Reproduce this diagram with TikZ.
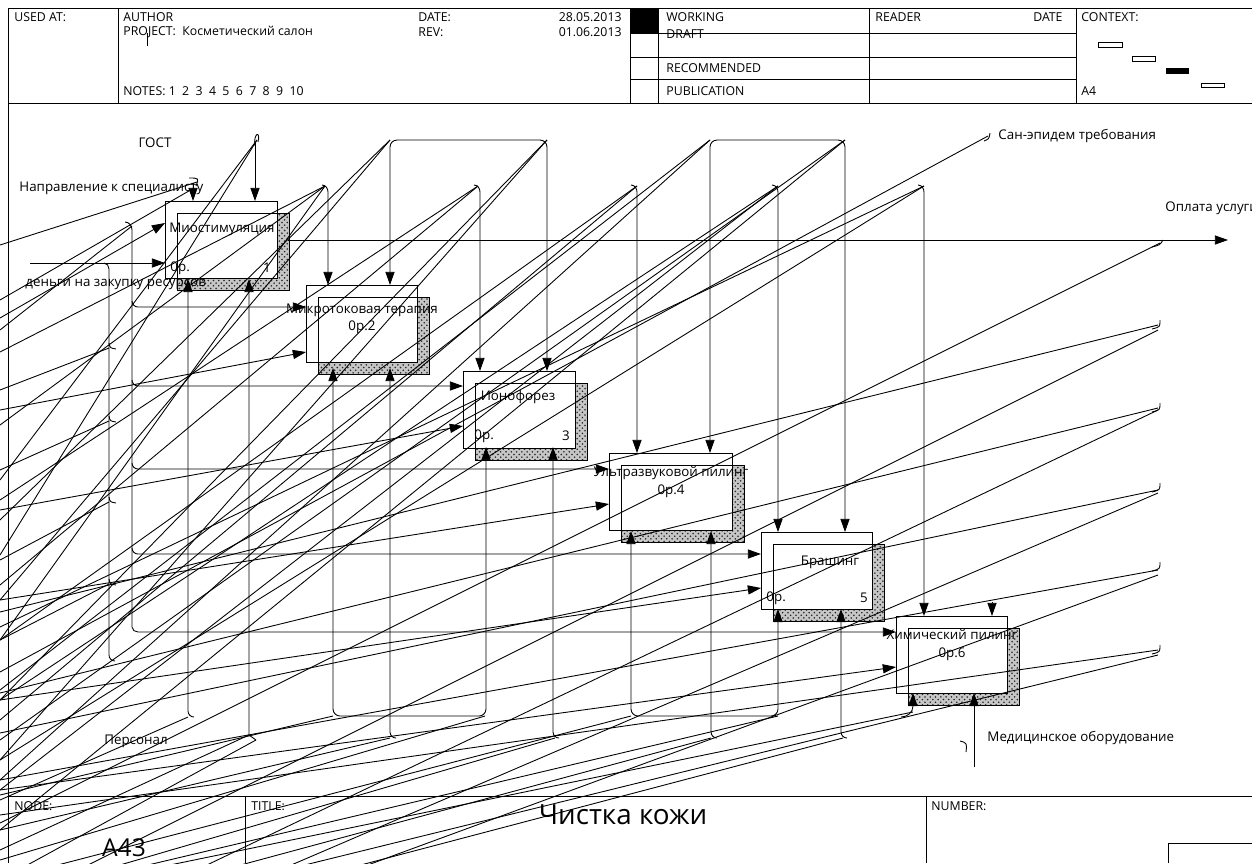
\documentclass[tikz,border=0pt]{standalone}
\usepackage{fontspec}
\setmainfont{Open Sans}
\usetikzlibrary{arrows.meta,patterns,positioning,calc}
\tikzset{
  hdr/.style={font=\fontsize{7}{8}\selectfont, inner sep=0pt, anchor=west},
  lbl/.style={font=\fontsize{7.6}{8}\selectfont, inner sep=0pt},
  arr/.style={-{Triangle[length=7.5pt,width=5.2pt]}},
  arrtwo/.style={{Triangle[length=7.5pt,width=5.2pt]}-{Triangle[length=7.5pt,width=5.2pt]}},
  actbox/.style={draw, anchor=north west, inner sep=0pt},
  shade/.style={draw, preaction={fill=gray!45}, pattern=crosshatch dots, pattern color=black!85},
}
\begin{document}
\begin{tikzpicture}[x=0.02cm, y=-0.02cm, line width=0.5pt]
		\useasboundingbox (0,0) rectangle (1252,863);
		\clip (0,0) rectangle (1252,863);
		\fill[white] (0,0) rectangle (1252,863);
		\draw (8,863) -- (8,8) -- (1252,8)
		(8,103) -- (1252,103)
		(118,8) -- (118,103)
		(630,8) -- (630,103) (658,8) -- (658,103)
		(869,8) -- (869,103) (1076,8) -- (1076,103)
		(630,33) -- (1076,33) (630,57) -- (1076,57) (630,79) -- (1076,79)
		(147,33) -- (147,46);
		\fill (630,8) rectangle (658,33);
		\draw (1098,42) rectangle (1122,47) (1132,56) rectangle (1155,61)
		(1201,83) rectangle (1224,87);
		\fill (1166,68) rectangle (1189,74);
		\node[hdr] (usedat) at (14,17) {USED AT:};
		\node[hdr] (author) at (123,17) {AUTHOR};
		\node[hdr] (project) at (123,32) {PROJECT:~~Косметический салон};
		\node[hdr] (notes) at (123,91) {NOTES:~1~~2~~3~~4~~5~~6~~7~~8~~9~~10};
		\node[hdr] (date) at (418,17) {DATE:};
		\node[hdr] (rev) at (418,32) {REV:};
		\node[hdr, anchor=east] (dateval) at (622,17) {28.05.2013};
		\node[hdr, anchor=east] (revval) at (622,32) {01.06.2013};
		\node[hdr] (working) at (666,17) {WORKING};
		\node[hdr] (draft) at (666,34) {DRAFT};
		\node[hdr] (recom) at (666,68) {RECOMMENDED};
		\node[hdr] (publ) at (666,91) {PUBLICATION};
		\node[hdr] (reader) at (875,17) {READER};
		\node[hdr, anchor=east] (rdate) at (1063,17) {DATE};
		\node[hdr] (context) at (1081,17) {CONTEXT:};
		\node[hdr] (sheet) at (1081,91) {A4};
		\draw (8,796) -- (1252,796) (245,796) -- (245,863) (926,796) -- (926,863)
		(1168,863) -- (1168,843) -- (1252,843);
		\node[hdr] (nodelbl) at (14,806) {NODE:};
		\node[hdr] (titlelbl) at (251,806) {TITLE:};
		\node[hdr] (numlbl) at (931,806) {NUMBER:};
		\node[font=\fontsize{15.8}{17}\selectfont, inner sep=0pt] (title) at (623,815) {Чистка кожи};
		\node[font=\fontsize{14}{15}\selectfont, inner sep=0pt] (nodeno) at (124,848) {A43};
		\foreach \n/\x/\y/\w in {miostim/165/201/112, mikrotok/306/285/111, ionofor/463/371/112,
			ultrazv/609/453/123, brash/761/532/111, khim/896/616/111}{
			\draw[shade] ({\x+12},{\y+12}) rectangle ({\x+\w+12},{\y+77+12});
			\draw[fill=white] ({\x+12},{\y+12}) rectangle ({\x+\w},{\y+77});
			\node[actbox, minimum width=\w*0.02cm, minimum height=77*0.02cm] (\n) at (\x,\y) {};
		}
		\node[lbl] (t1) at (222,229) {Миостимуляция};
		\node[lbl, anchor=west] (n1) at (170,268) {0р.};
		\node[lbl] (k1) at (267,268) {1};
		\node[lbl] (t2) at (362,310) {Микротоковая терапия};
		\node[lbl] (n2) at (362,327) {0р.2};
		\node[lbl] (t3) at (518,397) {Ионофорез};
		\node[lbl, anchor=west] (n3) at (474,436) {0р.};
		\node[lbl] (k3) at (566,436) {3};
		\node[lbl] (t4) at (671,473) {Ультразвуковой пилинг};
		\node[lbl] (n4) at (671,491) {0р.4};
		\node[lbl] (t5) at (830,562) {Брашинг};
		\node[lbl, anchor=west] (n5) at (766,598) {0р.};
		\node[lbl] (k5) at (864,598) {5};
		\node[lbl] (t6) at (952,635) {Химический пилинг};
		\node[lbl] (n6) at (952,654) {0р.6};
		\node[lbl] (gost) at (155,143) {ГОСТ};
		\node[lbl, anchor=west] (napr) at (19,188) {Направление к специалисту};
		\node[lbl, anchor=west] (dengi) at (25,284) {деньги на закупку ресурсов};
		\node[lbl, anchor=west] (sanep) at (998,136) {Сан-эпидем требования};
		\node[lbl, anchor=west] (oplata) at (1165,208) {Оплата услуги};
		\node[lbl] (personal) at (136,741) {Персонал};
		\node[lbl, anchor=west] (medob) at (987,738) {Медицинское оборудование};
		\draw[arr] (193,183) -- (miostim.north -| 193,0);
		\draw (189,178) .. controls (199,178) .. (196,186);
		\draw[arr] (255,142) -- (miostim.north -| 255,0);
		\draw (255,146) .. controls (253,133) and (261,130) .. (258,142);
		\draw[arrtwo, rounded corners=4] (390,285) |- (547,140) -- (547,371);
		\draw[arrtwo, rounded corners=4] (710,453) |- (845,140) -- (845,532);
		\foreach \cx/\cy in {328/285, 480/371, 637/453, 778/532, 924/616}
			\draw[arr] ({\cx-6},185) to[out=0,in=90] (\cx,192) -- (\cx,\cy);
		\draw[arr] (992,602) -- (khim.north -| 992,0);
		\draw[arr] (30,263) -- (miostim.west |- 0,263);
		\draw[arr] (0,318) -- (miostim.west |- 0,223);
		\draw[arr] (125,222) to[out=0,in=90] (132,230) -- (132,627) to[out=-90,in=180] (138,632) -- (khim.west |- 0,632);
		\foreach \ty/\bx in {307/mikrotok, 386/ionofor, 469/ultrazv, 554/brash}
			\draw[arr] (132,{\ty-6}) to[out=-90,in=180] (138,\ty) -- (\bx.west |- 0,\ty);
		\draw (104,263) to[out=0,in=90] (109,269) -- (109,655) to[out=-90,in=180] (115,661);
		\foreach \ty in {348,421,502,584}
			\draw (109,{\ty-5}) .. controls (110,\ty) .. (116,{\ty+1});
		\foreach \sx/\sy/\ty/\bx in {0/410/352/mikrotok, 0/510/426/ionofor, 0/600/504/ultrazv, 0/700/588/brash, 0/790/667/khim}
			\draw[arr] (\sx,\sy) -- (\bx.west |- 0,\ty);
		\draw[arr] (288,240) -- (1228,240);
		\draw (1152,247) .. controls (1160,245) .. (1163,240);
		\draw (984,141) .. controls (989,139) .. (990,133);
		\foreach \ty in {325,408,488,567,650}
			\draw (1152,{\ty+4}) .. controls (1160,{\ty+2}) .. (1160,{\ty-5});
		\draw[arr] (194,717) to[out=180,in=-90] (188,711) -- (188,279);
		\draw[arr] (256,740) -- (249,735) -- (249,279);
		\draw[arrtwo, rounded corners=4] (333,368) |- (486,716) -- (486,447);
		\draw[arrtwo, rounded corners=4] (631,531) |- (778,716) -- (778,609);
		\foreach \mx/\my in {390/368, 553/447, 711/531, 841/609}
			\draw[arr] ({\mx+6},738) to[out=180,in=-90] (\mx,732) -- (\mx,\my);
		\draw[arr] (901,717) to[out=0,in=-90] (913,706) -- (913,693);
		\draw[arr] (974,767) -- (974,693);
		\draw (960,741) .. controls (967,743) .. (966,752);
		\foreach \a/\b/\c/\d in {197/182/0/245, 194/188/0/300, 257/140/0/480, 257/140/0/555,
			325/186/0/352, 325/186/0/425, 325/186/0/640, 390/140/0/520, 390/140/0/600,
			547/140/0/700, 547/140/0/760, 478/186/0/500, 478/186/0/585, 637/186/0/640,
			637/186/0/720, 710/140/0/780, 710/140/0/690, 845/140/0/830, 845/140/0/740,
			778/186/0/700, 778/186/0/790, 924/186/0/627, 924/186/0/760, 988/136/0/672,
			1160/243/0/823, 1158/325/0/612, 1158/330/0/909, 1158/408/0/693, 1158/410/0/964,
			1158/490/0/733, 1158/493/0/990, 1158/570/0/780, 1158/575/0/1000, 1158/650/0/815,
			1158/655/0/940, 188/717/0/800, 249/735/0/850, 256/740/0/880, 333/716/0/795,
			390/738/0/830, 485/716/0/860, 555/738/0/900, 631/716/0/880, 711/738/0/930,
			778/716/0/900, 843/738/0/960, 913/712/0/900, 109/348/0/390, 109/421/0/470,
			109/502/0/560, 109/584/0/640, 132/226/0/330}
			\draw (\a,\b) -- (\c,\d);
	\end{tikzpicture}
\end{document}
